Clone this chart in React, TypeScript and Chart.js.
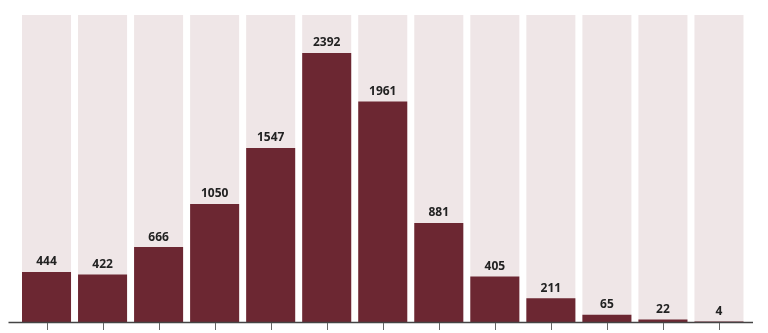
import React, { useEffect, useRef } from "react";
import { Chart, registerables } from "chart.js";

Chart.register(...registerables);

const categories = ["1", "2", "3", "4", "5", "6", "7", "8", "9", "10", "11", "12", "13"];
const values = [444, 422, 666, 1050, 1547, 2392, 1961, 881, 405, 211, 65, 22, 4];
const scaleMax = 2730;
const backgroundValues = categories.map(() => scaleMax);

const labelPlugin = {
  id: "valueLabels",
  afterDatasetsDraw(chart: any) {
    const ctx = chart.ctx;
    const meta = chart.getDatasetMeta(0);
    ctx.save();
    ctx.font = "bold 12px 'Open Sans', 'Liberation Sans', sans-serif";
    ctx.fillStyle = "#222222";
    ctx.textAlign = "center";
    ctx.textBaseline = "bottom";
    meta.data.forEach((bar: any, i: number) => {
      ctx.fillText(String(values[i]), bar.x, bar.y - 4);
    });
    ctx.restore();
  },
};

const axisPlugin = {
  id: "axisLine",
  afterDraw(chart: any) {
    const ctx = chart.ctx;
    const area = chart.chartArea;
    const xScale = chart.scales.x;
    ctx.save();
    ctx.strokeStyle = "#444444";
    ctx.lineWidth = 1.5;
    ctx.beginPath();
    ctx.moveTo(area.left - 10, area.bottom + 0.5);
    ctx.lineTo(area.right + 6, area.bottom + 0.5);
    ctx.stroke();
    ctx.lineWidth = 1;
    ctx.strokeStyle = "#666666";
    categories.forEach((_, i) => {
      const x = Math.round(xScale.getPixelForValue(i)) + 0.5;
      ctx.beginPath();
      ctx.moveTo(x, area.bottom + 1);
      ctx.lineTo(x, area.bottom + 8);
      ctx.stroke();
    });
    ctx.restore();
  },
};

export default function App() {
  const ref = useRef<HTMLCanvasElement>(null);
  useEffect(() => {
    if (!ref.current) return;
    const chart = new Chart(ref.current, {
      type: "bar",
      data: {
        labels: categories,
        datasets: [
          {
            data: values,
            backgroundColor: "#6C2732",
            barPercentage: 0.875,
            categoryPercentage: 1,
          },
          {
            data: backgroundValues,
            backgroundColor: "#EFE6E7",
            barPercentage: 0.875,
            categoryPercentage: 1,
          },
        ],
      },
      options: {
        animation: false,
        responsive: false,
        layout: { padding: { top: 7, bottom: 11, left: 10.5, right: 13 } },
        plugins: { legend: { display: false }, tooltip: { enabled: false } },
        scales: {
          x: { display: false, stacked: true },
          y: { display: false, stacked: false, min: 0, max: scaleMax },
        },
      },
      plugins: [labelPlugin, axisPlugin],
    });
    return () => chart.destroy();
  }, []);
  return (
    <div style={{ width: 752, height: 325 }}>
      <canvas ref={ref} width={752} height={325} />
    </div>
  );
}
